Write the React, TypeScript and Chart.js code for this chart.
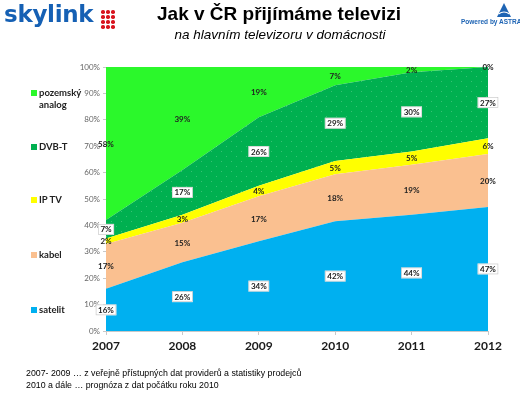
import React, { useEffect, useRef } from "react";
import { Chart, registerables } from "chart.js";

Chart.register(...registerables);

const years = ["2007", "2008", "2009", "2010", "2011", "2012"];
const seriesNames = ["satelit", "kabel", "IP TV", "DVB-T", "pozemský analog"];
const satelit = [16, 26, 34, 42, 44, 47];
const kabel = [17, 15, 17, 18, 19, 20];
const iptv = [2, 3, 4, 5, 5, 6];
const dvbt = [7, 17, 26, 29, 30, 27];
const analog = [58, 39, 19, 7, 2, 0];
const seriesColors = ["#00B0F0", "#FAC090", "#FFFF00", "#00B050", "#2BF82B"];
const boxedSeries = [true, false, false, true, false];
const legendOrder = [4, 3, 2, 1, 0];
const legendY = [93, 147, 200, 255, 310];
const titleText = "Jak v ČR přijímáme televizi";
const subtitleText = "na hlavním televizoru v domácnosti";
const footerLines = [
  "2007- 2009 … z veřejně přístupných dat providerů a statistiky prodejců",
  "2010 a dále … prognóza z dat počátku roku 2010",
];

const rawSeries = [satelit, kabel, iptv, dvbt, analog];

function normalized(): number[][] {
  const totals = years.map((_, j) => rawSeries.reduce((s, arr) => s + arr[j], 0));
  return rawSeries.map((arr) => arr.map((v, j) => (v / totals[j]) * 100));
}

const labelPlugin = {
  id: "areaLabels",
  afterDatasetsDraw(chart: any) {
    const ctx = chart.ctx as CanvasRenderingContext2D;
    const xs = chart.scales.x;
    const ys = chart.scales.y;
    const norm = normalized();
    ctx.save();
    ctx.font = "bold 8px Lato, 'Open Sans', sans-serif";
    ctx.textAlign = "center";
    ctx.textBaseline = "middle";
    years.forEach((_, j) => {
      let cum = 0;
      const x = xs.getPixelForValue(j);
      rawSeries.forEach((arr, i) => {
        const v = norm[i][j];
        const y = ys.getPixelForValue(cum + v / 2);
        cum += v;
        const text = arr[j] + "%";
        if (boxedSeries[i]) {
          const w = ctx.measureText(text).width + 5;
          const h = 11;
          ctx.fillStyle = "#ffffff";
          ctx.fillRect(x - w / 2, y - h / 2, w, h);
          ctx.strokeStyle = "rgba(180,180,180,0.8)";
          ctx.lineWidth = 0.6;
          ctx.strokeRect(x - w / 2 + 0.5, y - h / 2 + 0.5, w - 1, h - 1);
        }
        ctx.fillStyle = "#222";
        ctx.fillText(text, x, y + 0.5);
      });
    });
    ctx.restore();
  },
};

function makeDotPattern(base: string): CanvasPattern | string {
  const c = document.createElement("canvas");
  c.width = 10;
  c.height = 10;
  const g = c.getContext("2d");
  if (!g) return base;
  g.fillStyle = base;
  g.fillRect(0, 0, 10, 10);
  g.fillStyle = "rgba(255,255,255,0.22)";
  g.fillRect(1, 1, 1, 1);
  g.fillRect(6, 6, 1, 1);
  const p = g.createPattern(c, "repeat");
  return p || base;
}

export default function App() {
  const canvasRef = useRef<HTMLCanvasElement | null>(null);

  useEffect(() => {
    document.body.style.margin = "0";
    const canvas = canvasRef.current;
    if (!canvas) return;
    const norm = normalized();
    const datasets = rawSeries.map((_, i) => ({
      label: seriesNames[i],
      data: norm[i],
      backgroundColor: i === 3 ? makeDotPattern(seriesColors[i]) : seriesColors[i],
      borderColor: seriesColors[i],
      borderWidth: 0,
      pointRadius: 0,
      tension: 0,
      fill: i === 0 ? "origin" : "-1",
    }));
    const chart = new Chart(canvas, {
      type: "line",
      data: { labels: years, datasets: datasets as any },
      options: {
        animation: false,
        responsive: false,
        devicePixelRatio: 1,
        layout: { padding: { left: 76, top: 67, right: 32, bottom: 34 } },
        plugins: { legend: { display: false }, tooltip: { enabled: false } },
        scales: {
          x: {
            type: "category",
            offset: false,
            afterFit: (s: any) => {
              s.height = 30;
            },
            grid: { drawOnChartArea: false, tickLength: 4, color: "#c8c8c8" },
            border: { color: "#c8c8c8" },
            ticks: {
              padding: 4,
              color: "#1a1a1a",
              font: { family: "Lato, 'Open Sans', sans-serif", size: 12, weight: "bold" },
              maxRotation: 0,
            },
          },
          y: {
            stacked: true,
            min: 0,
            max: 100,
            afterFit: (s: any) => {
              s.width = 30;
            },
            grid: { drawOnChartArea: false, tickLength: 3, color: "#c8c8c8" },
            border: { color: "#c8c8c8" },
            ticks: {
              stepSize: 10,
              padding: 3,
              color: "#666",
              font: { family: "Lato, 'Open Sans', sans-serif", size: 8 },
              callback: (v: any) => v + "%",
            },
          },
        },
      },
      plugins: [labelPlugin],
    });
    return () => chart.destroy();
  }, []);

  const dots: React.ReactNode[] = [];
  for (let r = 0; r < 4; r++) {
    for (let c = 0; c < 3; c++) {
      dots.push(
        <div
          key={r + "-" + c}
          style={{
            position: "absolute",
            left: 101 + c * 5,
            top: 10 + r * 5,
            width: 3.5,
            height: 3.5,
            borderRadius: "50%",
            background: "#D8141E",
          }}
        />
      );
    }
  }

  return (
    <div
      style={{
        position: "relative",
        width: 520,
        height: 395,
        background: "#fff",
        overflow: "hidden",
        fontFamily: "'Liberation Sans', Arial, sans-serif",
      }}
    >
      <canvas
        ref={canvasRef}
        width={520}
        height={395}
        style={{ position: "absolute", left: 0, top: 0, width: 520, height: 395 }}
      />
      <div
        style={{
          position: "absolute",
          left: 4,
          top: 1,
          fontFamily: "'DejaVu Sans', sans-serif",
          fontWeight: "bold",
          fontSize: 23,
          color: "#1560B4",
          letterSpacing: -0.3,
          whiteSpace: "nowrap",
        }}
      >
        skylink
      </div>
      {dots}
      <div
        style={{
          position: "absolute",
          left: 279,
          top: 3,
          transform: "translateX(-50%)",
          fontWeight: "bold",
          fontSize: 19,
          color: "#000",
          whiteSpace: "nowrap",
        }}
      >
        {titleText}
      </div>
      <div
        style={{
          position: "absolute",
          left: 280,
          top: 27,
          transform: "translateX(-50%)",
          fontStyle: "italic",
          fontSize: 13.5,
          color: "#000",
          whiteSpace: "nowrap",
        }}
      >
        {subtitleText}
      </div>
      <svg
        style={{ position: "absolute", left: 496, top: 3 }}
        width={16}
        height={15}
        viewBox="0 0 16 15"
      >
        <path d="M8 0 L15 14 L1 14 Z" fill="#1E64B4" />
        <path d="M2.5 11 Q8 7 13.5 11" stroke="#fff" strokeWidth={1.2} fill="none" />
      </svg>
      <div
        style={{
          position: "absolute",
          left: 461,
          top: 18,
          fontWeight: "bold",
          fontSize: 6.5,
          color: "#1E64B4",
          whiteSpace: "nowrap",
        }}
      >
        Powered by ASTRA
      </div>
      {legendOrder.map((si, k) => {
        const name = seriesNames[si];
        const parts = name === "pozemský analog" ? ["pozemský", "analog"] : [name];
        return (
          <div
            key={name}
            style={{ position: "absolute", left: 31, top: legendY[k] - 6 }}
          >
            <div
              style={{
                position: "absolute",
                left: 0,
                top: 3,
                width: 6,
                height: 6,
                background: seriesColors[si],
              }}
            />
            <div
              style={{
                position: "absolute",
                left: 8,
                top: 0,
                fontFamily: "Lato, 'Open Sans', sans-serif",
                fontWeight: "bold",
                fontSize: 9.5,
                lineHeight: "12px",
                color: "#222",
                whiteSpace: "nowrap",
              }}
            >
              {parts.map((p) => (
                <div key={p}>{p}</div>
              ))}
            </div>
          </div>
        );
      })}
      {footerLines.map((line, k) => (
        <div
          key={k}
          style={{
            position: "absolute",
            left: 26,
            top: 367 + k * 12,
            fontSize: 8.8,
            lineHeight: "12px",
            color: "#000",
            whiteSpace: "nowrap",
          }}
        >
          {line}
        </div>
      ))}
    </div>
  );
}
